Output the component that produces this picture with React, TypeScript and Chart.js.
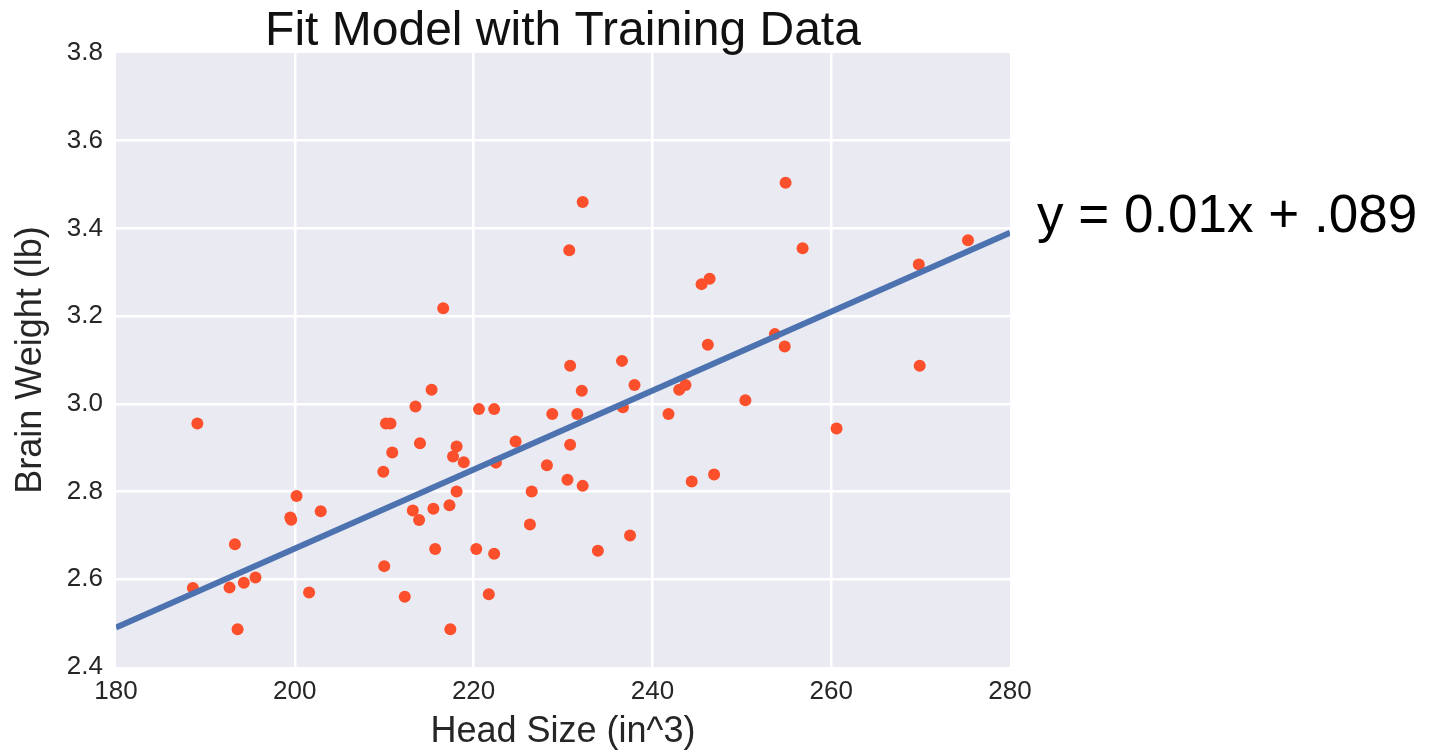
import React, { useEffect, useRef } from 'react';
import { Chart, registerables } from 'chart.js';

Chart.register(...registerables);

// ---- data ----
const headSize = [
  189.1, 188.6, 192.7, 193.3, 193.6, 194.3, 195.6, 199.5, 199.6, 200.2,
  201.6, 202.9, 210.0, 209.9, 210.2, 210.7, 210.9, 212.3, 213.2, 213.5,
  213.9, 214.0, 215.3, 215.5, 215.7, 216.6, 217.3, 217.4, 217.7, 218.1,
  218.1, 218.9, 220.3, 220.6, 221.7, 222.3, 222.3, 222.5, 224.7, 226.3,
  226.5, 228.2, 228.8, 230.5, 230.7, 230.8, 230.8, 231.6, 232.2, 232.2,
  232.1, 233.9, 236.6, 236.7, 237.5, 238.0, 241.8, 243.0, 243.7, 244.4,
  245.5, 246.4, 246.2, 246.9, 250.4, 253.7, 254.9, 254.8, 256.8, 260.6,
  269.8, 269.9, 275.3,
];
const brainWeight = [
  2.955, 2.58, 2.581, 2.68, 2.486, 2.592, 2.604, 2.741, 2.736, 2.79,
  2.57, 2.755, 2.63, 2.845, 2.955, 2.955, 2.889, 2.56, 2.757, 2.994,
  2.735, 2.91, 3.032, 2.761, 2.669, 3.218, 2.769, 2.486, 2.88, 2.903,
  2.8, 2.867, 2.669, 2.988, 2.566, 2.988, 2.658, 2.866, 2.914, 2.725,
  2.8, 2.86, 2.977, 2.827, 3.35, 3.087, 2.907, 2.977, 3.46, 2.813,
  3.03, 2.665, 3.098, 2.992, 2.7, 3.043, 2.977, 3.032, 3.043, 2.823,
  3.273, 3.285, 3.135, 2.839, 3.008, 3.159, 3.504, 3.131, 3.355, 2.944,
  3.318, 3.087, 3.373,
];
const fitLineX = [180, 280];
const fitLineY = [2.49, 3.39];

const xMin = 180;
const xMax = 280;
const xStep = 20;
const yMin = 2.4;
const yMax = 3.8;
const yStep = 0.2;

const titleText = 'Fit Model with Training Data';
const xAxisLabel = 'Head Size (in^3)';
const yAxisLabel = 'Brain Weight (lb)';
const equationText = 'y = 0.01x + .089';

const FONT = '"Liberation Sans", Arial, Helvetica, sans-serif';

export default function App() {
  const canvasRef = useRef<HTMLCanvasElement | null>(null);

  useEffect(() => {
    const canvas = canvasRef.current;
    if (!canvas) return;

    const bgPlugin = {
      id: 'plotBg',
      beforeDraw(chart: any) {
        const { ctx, chartArea } = chart;
        ctx.save();
        ctx.fillStyle = '#EAEAF2';
        ctx.fillRect(chartArea.left, chartArea.top, chartArea.right - chartArea.left, chartArea.bottom - chartArea.top);
        ctx.restore();
      },
    };

    const textPlugin = {
      id: 'texts',
      afterDraw(chart: any) {
        const { ctx, chartArea } = chart;
        ctx.save();
        ctx.fillStyle = '#111111';
        ctx.font = `48px ${FONT}`;
        ctx.textAlign = 'center';
        ctx.textBaseline = 'alphabetic';
        ctx.fillText(titleText, (chartArea.left + chartArea.right) / 2, 45);
        ctx.fillStyle = '#000000';
        ctx.font = `53px ${FONT}`;
        ctx.textAlign = 'left';
        ctx.fillText(equationText, 1037, 232);
        ctx.restore();
      },
    };

    const points = headSize.map((x, i) => ({ x, y: brainWeight[i] }));
    const fit = fitLineX.map((x, i) => ({ x, y: fitLineY[i] }));

    const gridColor = (c: any) => {
      const n = c.scale && c.scale.ticks ? c.scale.ticks.length : 0;
      return c.index === 0 || c.index === n - 1 ? 'rgba(0,0,0,0)' : '#FFFFFF';
    };

    const chart = new Chart(canvas, {
      type: 'scatter',
      data: {
        datasets: [
          {
            label: 'fit',
            type: 'line',
            data: fit,
            showLine: true,
            borderColor: '#4C72B0',
            borderWidth: 6,
            pointRadius: 0,
            fill: false,
            order: 0,
          } as any,
          {
            label: 'training',
            data: points,
            backgroundColor: '#FC4F2C',
            pointBackgroundColor: '#FC4F2C',
            pointBorderWidth: 0,
            pointRadius: 6,
            pointHoverRadius: 6,
            order: 1,
          },
        ],
      },
      options: {
        responsive: false,
        animation: false,
        events: [],
        layout: { padding: { top: 53, right: 423, left: 0, bottom: 0 } },
        plugins: {
          legend: { display: false },
          title: { display: false },
          tooltip: { enabled: false },
        },
        scales: {
          x: {
            type: 'linear',
            min: xMin,
            max: xMax,
            border: { display: false },
            grid: { color: gridColor, lineWidth: 2.5, drawTicks: false },
            ticks: {
              stepSize: xStep,
              padding: 9,
              color: '#262626',
              font: { family: FONT, size: 26 },
              callback: (v: any) => String(v),
            },
            title: {
              display: true,
              text: xAxisLabel,
              color: '#262626',
              font: { family: FONT, size: 36 },
              padding: { top: 0, bottom: 1.4 },
            },
            afterFit: (s: any) => { s.height = 88; },
          },
          y: {
            type: 'linear',
            min: yMin,
            max: yMax,
            border: { display: false },
            grid: { color: gridColor, lineWidth: 2.5, drawTicks: false },
            ticks: {
              stepSize: yStep,
              padding: 13,
              color: '#262626',
              font: { family: FONT, size: 26 },
              callback: (v: any) => Number(v).toFixed(1),
            },
            title: {
              display: true,
              text: yAxisLabel,
              color: '#262626',
              font: { family: FONT, size: 36 },
              padding: { top: 9.4, bottom: 0 },
            },
            afterFit: (s: any) => { s.width = 116; },
          },
        },
      },
      plugins: [bgPlugin, textPlugin],
    } as any);

    return () => chart.destroy();
  }, []);

  return (
    <div style={{ position: 'absolute', left: 0, top: 0, width: 1433, height: 755, background: '#fff' }}>
      <canvas ref={canvasRef} width={1433} height={755} style={{ display: 'block', width: 1433, height: 755 }} />
    </div>
  );
}
